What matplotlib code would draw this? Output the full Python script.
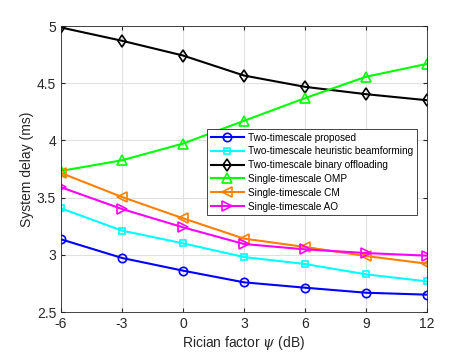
import matplotlib
matplotlib.use("Agg")
import matplotlib.pyplot as plt

plt.rcParams['font.family'] = ['Liberation Sans', 'DejaVu Sans']
plt.rcParams['mathtext.fontset'] = 'dejavuserif'

x = [-6, -3, 0, 3, 6, 9, 12]
proposed = [3.136, 2.973, 2.862, 2.760, 2.713, 2.669, 2.652]
heuristic = [3.407, 3.212, 3.101, 2.981, 2.920, 2.830, 2.768]
binary = [4.988, 4.872, 4.743, 4.568, 4.469, 4.405, 4.352]
omp = [3.734, 3.827, 3.973, 4.172, 4.370, 4.557, 4.670]
cm = [3.716, 3.506, 3.320, 3.142, 3.069, 2.990, 2.923]
ao = [3.591, 3.401, 3.241, 3.095, 3.048, 3.016, 2.993]

labels = ['Two-timescale proposed', 'Two-timescale heuristic beamforming',
          'Two-timescale binary offloading', 'Single-timescale OMP',
          'Single-timescale CM', 'Single-timescale AO']
series = [proposed, heuristic, binary, omp, cm, ao]
colors = ['#0000ff', '#00ffff', '#000000', '#00ff00', '#ff8000', '#ff00ff']
markers = ['o', 's', 'd', '^', '<', '>']
msizes = [6, 4.5, 6, 6.5, 6.5, 6.5]

fig = plt.figure(figsize=(4.71, 3.53), dpi=100)
ax = fig.add_axes([0.1295, 0.116, 0.777, 0.81])
for y, lab, c, m, ms in zip(series, labels, colors, markers, msizes):
    ax.plot(x, y, color=c, marker=m, markersize=ms, markerfacecolor='none',
            markeredgewidth=1.2, linewidth=1.5, label=lab)

ax.set_xlim(-6, 12)
ax.set_ylim(2.5, 5)
ax.set_xticks(x)
ax.set_xticklabels(['-6', '-3', '0', '3', '6', '9', '12'])
ax.set_yticks([2.5, 3, 3.5, 4, 4.5, 5])
ax.set_yticklabels(['2.5', '3', '3.5', '4', '4.5', '5'])
ax.grid(True, color='#e0e0e0', linewidth=0.8)
ax.set_axisbelow(True)
ax.tick_params(direction='in', labelsize=10, colors='#262626', length=3,
               top=True, right=True)
for s in ax.spines.values():
    s.set_color('#262626')
    s.set_linewidth(0.6)
ax.set_xlabel(r'Rician factor $\psi$ (dB)', fontsize=10, color='#262626', labelpad=2)
ax.set_ylabel('System delay (ms)', fontsize=10, color='#262626', labelpad=2)

leg = ax.legend(loc='upper left', bbox_to_anchor=(0.40, 0.64), fontsize=7.2,
                fancybox=False, edgecolor='#262626', framealpha=1,
                handlelength=3.3, handletextpad=0.4, labelspacing=0.38,
                borderpad=0.35, borderaxespad=0)
leg.get_frame().set_linewidth(0.6)

fig.savefig('out.png', dpi=100)
